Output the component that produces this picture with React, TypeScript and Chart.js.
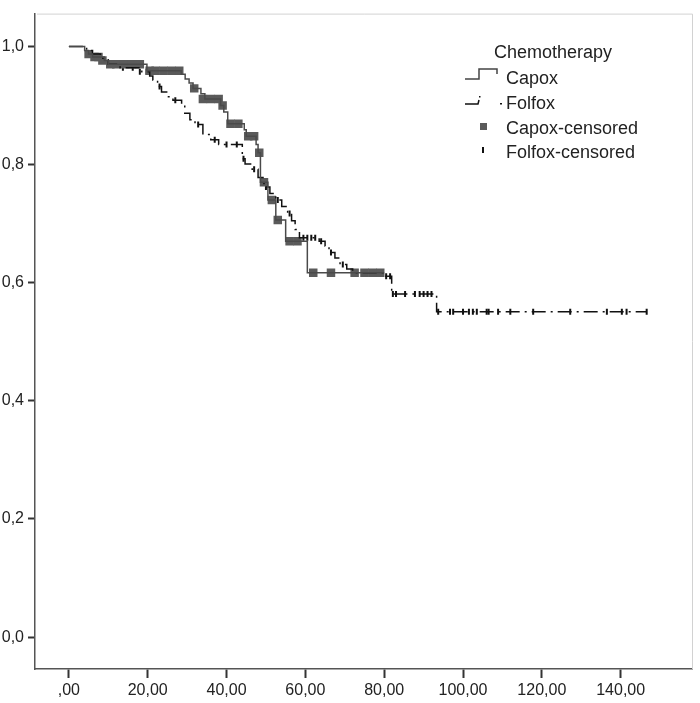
import React, { useEffect, useRef } from "react";
import { Chart, registerables } from "chart.js";
Chart.register(...registerables);

// Kaplan-Meier step data (time, survival after step)
const capoxTimes = [0, 4.0, 5.0, 6.0, 9.0, 10.0, 19.8, 28.5, 29.5, 30.5, 31.5, 33.5, 34.5, 38.5, 39.3, 40.3, 44.5, 45.0, 47.5, 48.0, 48.6, 50.5, 52.5, 55.0, 60.5, 80.0];
const capoxSurv = [1.0, 0.993, 0.987, 0.982, 0.976, 0.970, 0.959, 0.953, 0.945, 0.938, 0.929, 0.920, 0.911, 0.900, 0.889, 0.869, 0.859, 0.848, 0.834, 0.820, 0.770, 0.740, 0.706, 0.670, 0.617, 0.617];

const folfoxTimes = [0, 4.5, 6.0, 8.0, 10.0, 13.0, 18.5, 20.5, 21.3, 22.5, 23.5, 25.0, 26.4, 28.6, 29.4, 30.7, 32.0, 34.0, 36.0, 38.0, 44.0, 44.7, 46.5, 48.0, 49.5, 51.0, 52.5, 54.0, 55.5, 56.5, 57.4, 58.5, 63.5, 65.0, 66.0, 67.5, 68.8, 70.5, 72.0, 80.0, 81.9, 93.3, 146.6];
const folfoxSurv = [1.0, 0.993, 0.987, 0.980, 0.970, 0.964, 0.957, 0.950, 0.943, 0.932, 0.923, 0.915, 0.909, 0.901, 0.887, 0.876, 0.868, 0.851, 0.842, 0.834, 0.810, 0.801, 0.792, 0.778, 0.762, 0.751, 0.740, 0.729, 0.717, 0.705, 0.690, 0.676, 0.670, 0.662, 0.651, 0.642, 0.631, 0.623, 0.617, 0.611, 0.581, 0.551, 0.551];

const capoxCensorT = [5, 6.5, 7.5, 8.5, 10.5, 12, 14, 16, 18, 20.5, 22, 24, 26, 28, 31.8, 34, 36, 38, 39, 41, 43, 45.5, 47, 48.3, 49.5, 51.5, 53, 56, 58, 62, 66.5, 72.5, 75, 77, 79];
const capoxCensorS = [0.987, 0.982, 0.982, 0.976, 0.970, 0.970, 0.970, 0.970, 0.970, 0.959, 0.959, 0.959, 0.959, 0.959, 0.929, 0.911, 0.911, 0.911, 0.900, 0.869, 0.869, 0.848, 0.848, 0.820, 0.770, 0.740, 0.706, 0.670, 0.670, 0.617, 0.617, 0.617, 0.617, 0.617, 0.617];

const folfoxCensorT = [13.7, 16.2, 18, 19.7, 23, 27, 32.8, 37, 40, 42.6, 44.3, 47, 50, 53, 56, 59.5, 60.5, 61.5, 62.5, 64, 66.5, 69.5, 73, 75, 76.5, 78, 80.5, 81.5, 82.2, 83, 85.3, 87.8, 89, 90, 91, 92, 93.7, 96.7, 97.5, 100, 101.5, 102.5, 103.5, 106, 106.5, 108.9, 112, 117.8, 127.2, 136.5, 140.3, 141.5, 146.6];
const folfoxCensorS = [0.964, 0.964, 0.957, 0.957, 0.932, 0.909, 0.868, 0.842, 0.834, 0.834, 0.810, 0.792, 0.762, 0.740, 0.717, 0.676, 0.676, 0.676, 0.676, 0.670, 0.651, 0.631, 0.617, 0.617, 0.617, 0.617, 0.611, 0.611, 0.581, 0.581, 0.581, 0.581, 0.581, 0.581, 0.581, 0.581, 0.551, 0.551, 0.551, 0.551, 0.551, 0.551, 0.551, 0.551, 0.551, 0.551, 0.551, 0.551, 0.551, 0.551, 0.551, 0.551, 0.551];

const xTickValues = [0, 20, 40, 60, 80, 100, 120, 140];
const xTickLabels = [",00", "20,00", "40,00", "60,00", "80,00", "100,00", "120,00", "140,00"];
const yTickValues = [0, 0.2, 0.4, 0.6, 0.8, 1.0];
const yTickLabels = ["0,0", "0,2", "0,4", "0,6", "0,8", "1,0"];

const legendTitle = "Chemotherapy";
const legendItems = ["Capox", "Folfox", "Capox-censored", "Folfox-censored"];

const tickFont = "'Liberation Sans', Arial, sans-serif";
const legendFont = "'Liberation Sans', Arial, sans-serif";

const zip = (t: number[], s: number[]) => t.map((x, i) => ({ x, y: s[i] }));

const framePlugin = {
  id: "frame",
  afterDraw(chart: any) {
    const { ctx, chartArea } = chart;
    ctx.save();
    ctx.strokeStyle = "#d2d2d2";
    ctx.lineWidth = 1;
    ctx.beginPath();
    ctx.moveTo(chartArea.left + 2, chartArea.top + 0.5);
    ctx.lineTo(chartArea.right + 0.5, chartArea.top + 0.5);
    ctx.lineTo(chartArea.right + 0.5, chartArea.bottom);
    ctx.stroke();

    // legend
    ctx.fillStyle = "#222";
    ctx.font = `18px ${legendFont}`;
    ctx.textBaseline = "alphabetic";
    ctx.textAlign = "left";
    ctx.fillText(legendTitle, 494, 58);
    const baselines = [84, 109, 134, 158];
    legendItems.forEach((t, i) => ctx.fillText(t, 506, baselines[i]));

    // Capox symbol
    ctx.strokeStyle = "#444";
    ctx.lineWidth = 1.5;
    ctx.beginPath();
    ctx.moveTo(465, 79);
    ctx.lineTo(479, 79);
    ctx.lineTo(479, 69);
    ctx.lineTo(497, 69);
    ctx.lineTo(497, 74);
    ctx.stroke();
    // Folfox symbol
    ctx.strokeStyle = "#111";
    ctx.beginPath();
    ctx.moveTo(465, 104);
    ctx.lineTo(478, 104);
    ctx.lineTo(479, 100);
    ctx.stroke();
    ctx.fillStyle = "#111";
    ctx.fillRect(479, 96, 1.5, 1.5);
    ctx.fillRect(500, 103, 2, 1.5);
    // Capox censored
    ctx.fillStyle = "#5a5a5a";
    ctx.fillRect(480, 123, 7, 7);
    // Folfox censored
    ctx.fillStyle = "#111";
    ctx.fillRect(482, 147, 2, 6);
    ctx.restore();
  },
};

export default function App() {
  const ref = useRef<HTMLCanvasElement>(null);
  useEffect(() => {
    document.body.style.margin = "0";
    const chart = new Chart(ref.current!, {
      type: "scatter",
      data: {
        datasets: [
          {
            label: "Capox",
            data: zip(capoxTimes, capoxSurv),
            showLine: true,
            stepped: "before",
            borderColor: "#4a4a4a",
            borderWidth: 1.5,
            pointRadius: 0,
          },
          {
            label: "Folfox",
            data: zip(folfoxTimes, folfoxSurv),
            showLine: true,
            stepped: "before",
            borderColor: "#111",
            borderWidth: 1.5,
            borderDash: [14, 5, 2, 5],
            pointRadius: 0,
          },
          {
            label: "Capox-censored",
            data: zip(capoxCensorT, capoxCensorS),
            showLine: false,
            pointStyle: "rect",
            pointRadius: 6,
            backgroundColor: "#5a5a5a",
            borderColor: "#5a5a5a",
            borderWidth: 0,
          },
          {
            label: "Folfox-censored",
            data: zip(folfoxCensorT, folfoxCensorS),
            showLine: false,
            pointStyle: "line",
            rotation: 90,
            pointRadius: 3,
            borderColor: "#111",
            borderWidth: 2,
          },
        ],
      },
      options: {
        animation: false,
        responsive: false,
        maintainAspectRatio: false,
        devicePixelRatio: 1,
        layout: { padding: { top: 4, right: 8, left: 0, bottom: 0 } },
        plugins: { legend: { display: false }, tooltip: { enabled: false } },
        scales: {
          x: {
            type: "linear",
            min: -8.6,
            max: 158.1,
            afterBuildTicks: (s: any) => {
              s.ticks = xTickValues.map((v) => ({ value: v }));
            },
            afterFit: (s: any) => {
              s.height = 34;
            },
            grid: { display: true, drawOnChartArea: false, drawTicks: true, tickLength: 9, tickColor: "#333", tickWidth: 2 },
            border: { display: true, color: "#555", width: 1.5 },
            ticks: {
              autoSkip: false,
              maxRotation: 0,
              padding: 3,
              color: "#222",
              font: { family: tickFont, size: 16 },
              callback: (v: any) => xTickLabels[xTickValues.indexOf(Number(v))] ?? "",
            },
          },
          y: {
            type: "linear",
            min: -0.054,
            max: 1.0556,
            afterBuildTicks: (s: any) => {
              s.ticks = yTickValues.map((v) => ({ value: v }));
            },
            afterFit: (s: any) => {
              s.width = 35;
            },
            grid: { display: true, drawOnChartArea: false, drawTicks: true, tickLength: 7, tickColor: "#333", tickWidth: 2 },
            border: { display: true, color: "#555", width: 1.5 },
            ticks: {
              autoSkip: false,
              padding: 4,
              color: "#222",
              font: { family: tickFont, size: 16 },
              callback: (v: any) => {
                const i = yTickValues.findIndex((t) => Math.abs(t - Number(v)) < 1e-6);
                return i >= 0 ? yTickLabels[i] : "";
              },
            },
          },
        },
      },
      plugins: [framePlugin],
    });
    return () => chart.destroy();
  }, []);
  return (
    <div style={{ position: "absolute", left: 0, top: 0, width: 700, height: 703, background: "#fff" }}>
      <canvas ref={ref} width={700} height={703} style={{ width: 700, height: 703, display: "block" }} />
    </div>
  );
}
